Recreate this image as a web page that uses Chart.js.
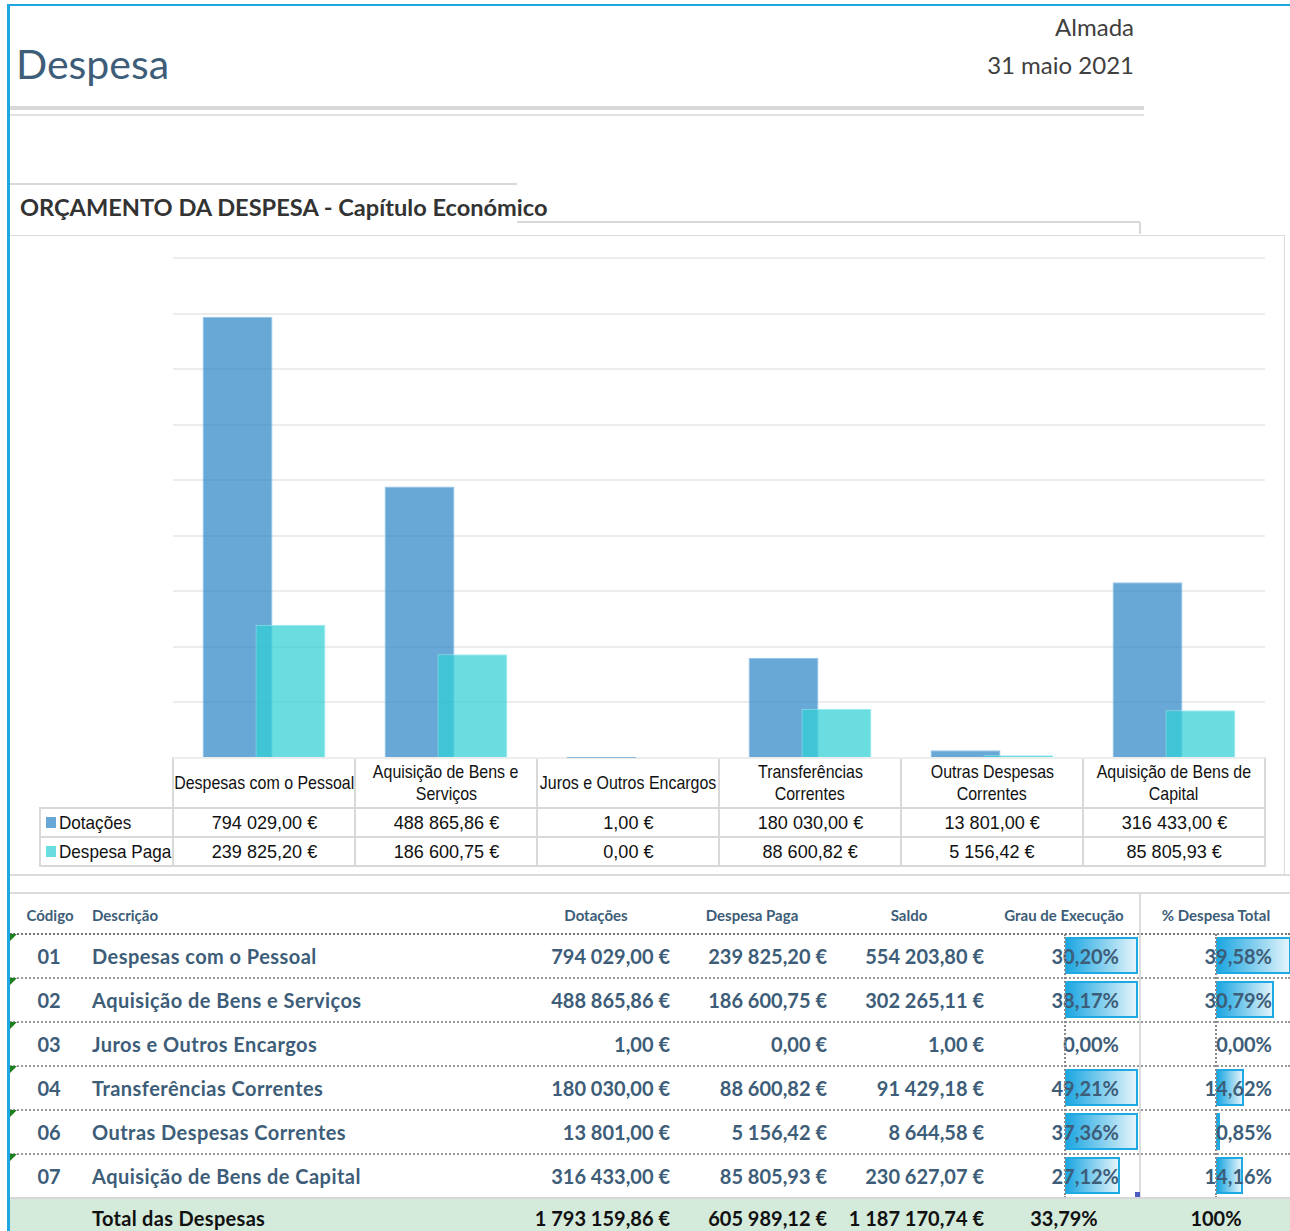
<!DOCTYPE html>
<html><head><meta charset="utf-8">
<script src="https://cdn.jsdelivr.net/npm/chart.js@4.4.1/dist/chart.umd.min.js"></script>
<style>
html,body{margin:0;padding:0;background:#fff;}
body{width:1290px;height:1231px;position:relative;overflow:hidden;font-family:Lato,"Open Sans",sans-serif;}
.ln{position:absolute;background:#dadada;}
.t{position:absolute;white-space:nowrap;}
.narrow{font-family:"Liberation Sans Narrow","Arial Narrow","Liberation Sans",sans-serif;color:#111;font-size:19px;}
.sq{display:inline-block;}
.hdr{font-weight:700;font-size:15px;color:#3d5d78;}
.row{font-weight:700;font-size:20px;color:#3d5d78;}
.tot{font-weight:700;font-size:20px;color:#111;}
.dbar{position:absolute;box-sizing:border-box;border:2px solid #1ea9e3;background:linear-gradient(to right,#1ea7e1,#e3f4fb);}
.dotH{position:absolute;height:0;border-top:2px dotted #9a9a9a;}
.dotV{position:absolute;width:0;border-left:2px dotted #8a8a8a;}
.tri{position:absolute;width:0;height:0;border-top:7px solid #1b7f1b;border-right:7px solid transparent;}
</style></head><body>
<div id="page"></div>
<div id="chartBox" style="position:absolute;left:173px;top:250px;width:1092px;height:509px;">
<canvas id="c" width="1092" height="509"></canvas>
</div>
<script>
// ---------------- data ----------------
const categories = [
  ['Despesas com o Pessoal'],
  ['Aquisição de Bens e', 'Serviços'],
  ['Juros e Outros Encargos'],
  ['Transferências', 'Correntes'],
  ['Outras Despesas', 'Correntes'],
  ['Aquisição de Bens de', 'Capital']
];
const codes = ['01', '02', '03', '04', '06', '07'];
const seriesNames = ['Dotações', 'Despesa Paga'];
const dotacoes = [794029.00, 488865.86, 1.00, 180030.00, 13801.00, 316433.00];
const despesaPaga = [239825.20, 186600.75, 0.00, 88600.82, 5156.42, 85805.93];
const saldo = [554203.80, 302265.11, 1.00, 91429.18, 8644.58, 230627.07];
const grauExecucao = [30.20, 38.17, 0.00, 49.21, 37.36, 27.12];
const pctDespesaTotal = [39.58, 30.79, 0.00, 14.62, 0.85, 14.16];
const totalLabel = 'Total das Despesas';
const totalsEur = [1793159.86, 605989.12, 1187170.74];
const totalGrau = 33.79;
const totalPct = 100;
const yMax = 900000;
const yStep = 100000;
const tableHeaders = ['Código', 'Descrição', 'Dotações', 'Despesa Paga', 'Saldo', 'Grau de Execução', '% Despesa Total'];
const pageTitle = 'Despesa';
const place = 'Almada';
const dateText = '31 maio 2021';
const sectionTitle = 'ORÇAMENTO DA DESPESA - Capítulo Económico';

// ---------------- helpers ----------------
function fmtEur(v){
  const parts = v.toFixed(2).split('.');
  return parts[0].replace(/\B(?=(\d{3})+(?!\d))/g, ' ') + ',' + parts[1] + ' €';
}
function fmtPct(v){ return v.toFixed(2).replace('.', ',') + '%'; }
const page = document.getElementById('page');
function el(cls, style, html){
  const d = document.createElement('div');
  d.className = cls;
  Object.assign(d.style, style);
  if (html !== undefined) d.innerHTML = html;
  page.appendChild(d);
  return d;
}
function line(x, y, w, h, color){ return el('ln', {left:x+'px', top:y+'px', width:w+'px', height:h+'px', background:color||'#dadada'}); }
function text(cls, x, y, w, h, html, align, extra){
  return el('t ' + cls, Object.assign({left:x+'px', top:y+'px', width:w+'px', height:h+'px', lineHeight:h+'px', textAlign:align||'left'}, extra||{}), html);
}
function squeeze(html, s, origin){
  return '<span class="sq" style="transform:scaleX(' + s + ');transform-origin:' + (origin||'center') + ';">' + html + '</span>';
}

// ---------------- frame & header ----------------
line(10, 4, 1280, 2, '#1ea7e1');
line(7, 4, 3, 1227, '#1ea7e1');
text('', 16, 38, 400, 52, pageTitle, 'left', {fontSize:'41px', color:'#3d5d78', fontWeight:'400'});
text('', 734, 12, 400, 30, place, 'right', {fontSize:'24px', color:'#404040'});
text('', 734, 50, 400, 30, dateText, 'right', {fontSize:'24px', color:'#404040'});
line(10, 106, 1134, 4, '#d9d9d9');
line(10, 114, 1134, 2, '#e2e2e2');
line(10, 183, 507, 2, '#d9d9d9');
text('', 20, 191, 700, 32, sectionTitle, 'left', {fontSize:'23.6px', fontWeight:'700', color:'#333'});
line(517, 221, 623, 2, '#d9d9d9');
line(1139, 222, 2, 12, '#d9d9d9');
line(10, 235, 1275, 1, '#dcdcdc');
line(1284, 235, 1, 640, '#dcdcdc');
line(10, 874, 1280, 2, '#dcdcdc');

// ---------------- chart ----------------
const colD = 'rgba(45,135,198,0.72)';
const colP = 'rgba(49,208,213,0.72)';
const forwardDraw = {
  id: 'forwardDraw',
  beforeDatasetsDraw(chart){
    const metas = chart.getSortedVisibleDatasetMetas();
    for (const m of metas) chart._drawDataset(m);
    return false;
  }
};
const chart = new Chart(document.getElementById('c'), {
  type: 'bar',
  data: {
    labels: categories.map(l => l.join(' ')),
    datasets: [
      {label: seriesNames[0], data: dotacoes, backgroundColor: colD, borderColor: 'rgba(140,190,228,0.9)', borderWidth: 1, categoryPercentage: 0.582, barPercentage: 1.32},
      {label: seriesNames[1], data: despesaPaga, backgroundColor: colP, borderColor: 'rgba(150,232,236,0.9)', borderWidth: 1, categoryPercentage: 0.582, barPercentage: 1.32}
    ]
  },
  options: {
    responsive: false, animation: false,
    layout: {padding: {top: 8, bottom: 1, left: 0, right: 0}},
    plugins: {legend: {display: false}, tooltip: {enabled: false}},
    scales: {
      x: {display: false, offset: true},
      y: {min: 0, max: yMax, ticks: {display: false, stepSize: yStep}, grid: {color: '#ededed', lineWidth: 2, drawTicks: false}, border: {display: false}}
    }
  },
  plugins: [forwardDraw]
});

// ---------------- chart data table (x axis labels + values) ----------------
(function(){
  const area = chart.chartArea;
  const boxLeft = 173, boxTop = 250;
  const n = categories.length;
  const left = boxLeft + area.left;
  const right = boxLeft + area.right;
  const w = (right - left) / n;
  const top = boxTop + area.bottom;
  const hH = 50, rH = 29;
  const legLeft = 40;
  categories.forEach((lines, i) => {
    el('t narrow', {left:(left+i*w)+'px', top:top+'px', width:w+'px', height:hH+'px', display:'flex', flexDirection:'column', alignItems:'center', justifyContent:'center', textAlign:'center', lineHeight:'22px'},
      lines.map(s => '<div>' + squeeze(s, 0.84) + '</div>').join(''));
  });
  [dotacoes, despesaPaga].forEach((arr, r) => {
    const y = top + hH + r*rH;
    const sq = r === 0 ? colD : colP;
    el('t narrow', {left:(legLeft+6)+'px', top:(y+9)+'px', width:'10px', height:'11px', background:sq});
    text('narrow', legLeft+19, y, left-legLeft-19, rH, squeeze(seriesNames[r], 0.9, 'left'), 'left');
    arr.forEach((v, i) => text('narrow', left+i*w, y, w, rH, squeeze(fmtEur(v), 0.95), 'center'));
  });
  const bc = '#d9d9d9';
  line(left-1, top-1, right-left+2, 2, bc);
  for (let r = 0; r <= 2; r++) line(legLeft-1, top+hH+r*rH-1, right-legLeft+2, 2, bc);
  line(legLeft-1, top+hH-1, 2, 2*rH+2, bc);
  for (let i = 0; i <= n; i++) line(left+i*w-1, top-1, 2, hH+2*rH+2, bc);
})();

// ---------------- bottom table ----------------
(function(){
  const topLine = 893;
  line(10, topLine-1, 1280, 2, '#dcdcdc');
  line(1139, topLine, 2, 306, '#dcdcdc');
  const hY = 902, hH = 26;
  text('hdr', 10, hY, 80, hH, tableHeaders[0], 'center');
  text('hdr', 92, hY, 300, hH, tableHeaders[1], 'left');
  const centers = [596, 752, 909, 1064, 1216];
  centers.forEach((c, k) => text('hdr', c-90, hY, 180, hH, tableHeaders[k+2], 'center'));
  const rowTop = 934, rH = 44;
  el('dotH', {left:'10px', top:(rowTop-1)+'px', width:'1280px', borderTopColor:'#777'});
  const rightEdges = [670, 827, 984, 1119, 1272];
  const grauMin = 18, grauMax = 30.2, grauLeft = 1065, grauW = 73;
  const pctMax = Math.max(...pctDespesaTotal), pctLeft = 1216, pctW = 75;
  codes.forEach((code, i) => {
    const y = rowTop + i*rH;
    if (i > 0) el('dotH', {left:'10px', top:(y-1)+'px', width:'1280px'});
    el('tri', {left:'10px', top:y+'px'});
    const gf = Math.max(0, Math.min(1, (grauExecucao[i]-grauMin)/(grauMax-grauMin)));
    if (gf > 0) el('dbar', {left:grauLeft+'px', top:(y+3)+'px', width:(gf*grauW)+'px', height:'37px'});
    const pf = pctDespesaTotal[i]/pctMax;
    if (pf > 0) el('dbar', {left:pctLeft+'px', top:(y+3)+'px', width:Math.max(2, pf*pctW)+'px', height:'37px'});
    text('row', 10, y, 78, rH, code, 'center');
    text('row', 92, y, 440, rH, categories[i].join(' '), 'left', {letterSpacing:'0.45px'});
    const vals = [fmtEur(dotacoes[i]), fmtEur(despesaPaga[i]), fmtEur(saldo[i]), fmtPct(grauExecucao[i]), fmtPct(pctDespesaTotal[i])];
    vals.forEach((v, k) => text('row', rightEdges[k]-200, y, 200, rH, v, 'right'));
  });
  const endY = rowTop + codes.length*rH;
  el('dotV', {left:'1064px', top:rowTop+'px', height:(endY-rowTop)+'px'});
  el('dotV', {left:'1215px', top:rowTop+'px', height:(endY-rowTop)+'px'});
  el('ln', {left:'1135px', top:(endY-6)+'px', width:'5px', height:'5px', background:'#4a5cc0'});
  line(10, endY-1, 1280, 2, '#d6d6d6');
  el('ln', {left:'10px', top:(endY+1)+'px', width:'1280px', height:(1231-endY-1)+'px', background:'#d4eadb'});
  const tY = endY + 2, tH = 36;
  text('tot', 92, tY, 400, tH, totalLabel, 'left', {letterSpacing:'0.3px'});
  totalsEur.forEach((v, k) => text('tot', rightEdges[k]-220, tY, 220, tH, fmtEur(v), 'right'));
  text('tot', 1064-80, tY, 160, tH, fmtPct(totalGrau), 'center');
  text('tot', 1216-80, tY, 160, tH, totalPct + '%', 'center');
})();
</script>
</body></html>
